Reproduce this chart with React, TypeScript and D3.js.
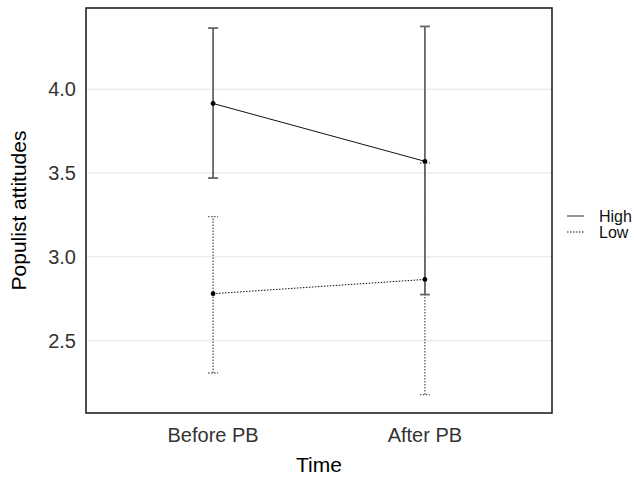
import React, { useEffect, useRef } from 'react';
import * as d3 from 'd3';

const times = ['Before PB', 'After PB'];
const groups = ['High', 'Low'];
const highMeans = [3.915, 3.57];
const highLower = [3.47, 2.775];
const highUpper = [4.365, 4.375];
const lowMeans = [2.78, 2.865];
const lowLower = [2.307, 2.178];
const lowUpper = [3.24, 3.56];
const yTicks = [2.5, 3.0, 3.5, 4.0];

const App = () => {
  const svgRef = useRef<SVGSVGElement>(null);

  useEffect(() => {
    document.body.style.margin = '0';
    const svg = d3.select(svgRef.current);
    svg.selectAll('*').remove();

    const width = 634;
    const height = 477;
    const panel = { left: 86, right: 552, top: 8, bottom: 413 };
    const font = '"Liberation Sans", Arial, sans-serif';

    const series = [
      { name: groups[0], mean: highMeans, lo: highLower, hi: highUpper, dash: null },
      { name: groups[1], mean: lowMeans, lo: lowLower, hi: lowUpper, dash: '1.5,1.5' },
    ];

    const all = series.flatMap((s) => [...s.lo, ...s.hi]);
    const [minV, maxV] = d3.extent(all) as [number, number];
    const pad = (maxV - minV) * 0.05;

    const y = d3.scaleLinear().domain([minV - pad, maxV + pad]).range([panel.bottom, panel.top]);
    const x = d3.scalePoint().domain(times).range([panel.left, panel.right]).padding(0.6);

    svg.append('rect')
      .attr('width', width)
      .attr('height', height)
      .attr('fill', 'white');

    // grid
    svg.append('g')
      .selectAll('line')
      .data(yTicks)
      .enter()
      .append('line')
      .attr('x1', panel.left)
      .attr('x2', panel.right)
      .attr('y1', (d) => y(d))
      .attr('y2', (d) => y(d))
      .attr('stroke', '#ebebeb')
      .attr('stroke-width', 1.5);

    // y tick labels
    svg.append('g')
      .selectAll('text')
      .data(yTicks)
      .enter()
      .append('text')
      .attr('x', panel.left - 10)
      .attr('y', (d) => y(d))
      .attr('dy', '0.36em')
      .attr('text-anchor', 'end')
      .style('font-family', font)
      .style('font-size', '20px')
      .attr('fill', '#333')
      .text((d) => d3.format('.1f')(d));

    // x tick labels
    svg.append('g')
      .selectAll('text')
      .data(times)
      .enter()
      .append('text')
      .attr('x', (d) => x(d)!)
      .attr('y', panel.bottom + 29)
      .attr('text-anchor', 'middle')
      .style('font-family', font)
      .style('font-size', '20px')
      .attr('fill', '#333')
      .text((d) => d);

    // error bars
    series.forEach((s) => {
      const g = svg.append('g');
      times.forEach((t, i) => {
        const cx = x(t)!;
        const bar = g.append('g')
          .attr('stroke', '#666')
          .attr('stroke-width', s.dash ? 1.4 : 1.8)
          .attr('stroke-dasharray', s.dash);
        bar.append('line')
          .attr('x1', cx).attr('x2', cx)
          .attr('y1', y(s.lo[i])).attr('y2', y(s.hi[i]));
        [s.lo[i], s.hi[i]].forEach((v) => {
          bar.append('line')
            .attr('x1', cx - 5).attr('x2', cx + 5)
            .attr('y1', y(v)).attr('y2', y(v));
        });
      });
    });

    // mean lines + points
    series.forEach((s) => {
      const pts = times.map((t, i) => [x(t)!, y(s.mean[i])] as [number, number]);
      svg.append('path')
        .attr('d', d3.line()(pts))
        .attr('fill', 'none')
        .attr('stroke', '#111')
        .attr('stroke-width', 1)
        .attr('stroke-dasharray', s.dash);
      svg.append('g')
        .selectAll('circle')
        .data(pts)
        .enter()
        .append('circle')
        .attr('cx', (d) => d[0])
        .attr('cy', (d) => d[1])
        .attr('r', 2.4)
        .attr('fill', 'black');
    });

    // panel border
    svg.append('rect')
      .attr('x', panel.left)
      .attr('y', panel.top)
      .attr('width', panel.right - panel.left)
      .attr('height', panel.bottom - panel.top)
      .attr('fill', 'none')
      .attr('stroke', '#222')
      .attr('stroke-width', 1.6);

    // axis titles
    svg.append('text')
      .attr('x', (panel.left + panel.right) / 2)
      .attr('y', 472)
      .attr('text-anchor', 'middle')
      .style('font-family', font)
      .style('font-size', '21px')
      .attr('fill', 'black')
      .text('Time');

    svg.append('text')
      .attr('transform', `translate(26,${(panel.top + panel.bottom) / 2}) rotate(-90)`)
      .attr('text-anchor', 'middle')
      .style('font-family', font)
      .style('font-size', '21px')
      .attr('fill', 'black')
      .text('Populist attitudes');

    // legend
    const legend = svg.append('g').attr('transform', `translate(567,216)`);
    const items = legend.selectAll('g')
      .data(series)
      .enter()
      .append('g')
      .attr('transform', (d, i) => `translate(0,${i * 16})`);
    items.append('line')
      .attr('x1', 0).attr('x2', 17)
      .attr('stroke', '#666')
      .attr('stroke-width', 1.4)
      .attr('stroke-dasharray', (d) => d.dash);
    items.append('text')
      .attr('x', 32)
      .attr('dy', '0.36em')
      .style('font-family', font)
      .style('font-size', '16px')
      .attr('fill', '#111')
      .text((d) => d.name);
  }, []);

  return <svg ref={svgRef} width={634} height={477} style={{ display: 'block' }}></svg>;
};

export default App;
